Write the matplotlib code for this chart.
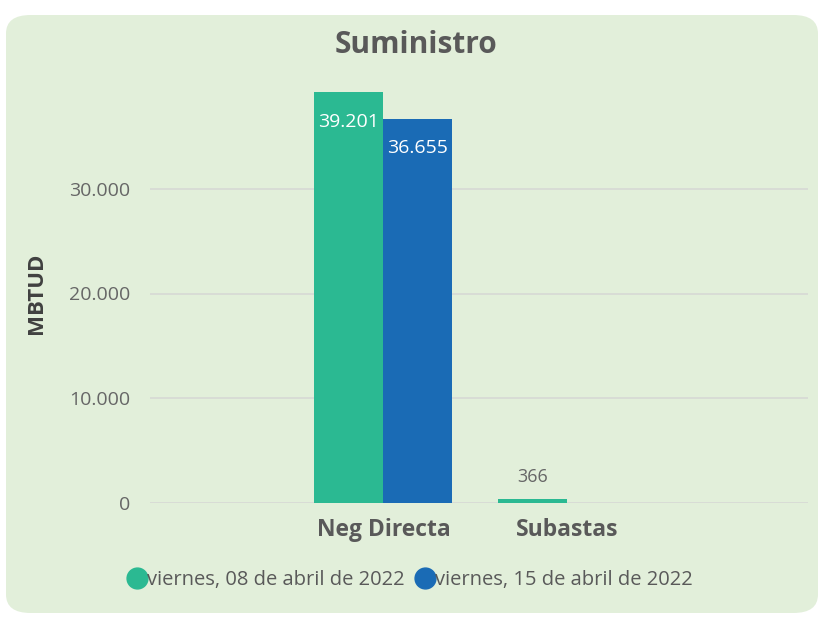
import matplotlib
matplotlib.use("Agg")
import matplotlib.pyplot as plt
from matplotlib.patches import FancyBboxPatch
from matplotlib.ticker import FuncFormatter
import numpy as np

categorias = ["Neg Directa", "Subastas"]
series = ["viernes, 08 de abril de 2022", "viernes, 15 de abril de 2022"]
valores_0804 = [39201, 366]
valores_1504 = [36655, 0]
colores = ["#2BB992", "#1A6BB5"]

plt.rcParams['font.family'] = ['Open Sans', 'DejaVu Sans']

def miles(v, pos=None):
    return f"{int(round(v)):,}".replace(",", ".")

W, H = 820, 617
fig = plt.figure(figsize=(W / 100, H / 100), dpi=100)
fig.patch.set_facecolor("white")

panel = FancyBboxPatch((6 / W, 4 / H), 812 / W, 598 / H,
                       boxstyle="round,pad=0,rounding_size=0.03",
                       transform=fig.transFigure, facecolor="#E2EFDA",
                       edgecolor="none", zorder=-10)
fig.patches.append(panel)

ax = fig.add_axes([150 / W, (H - 503) / H, 658 / W, (503 - 84) / H])
ax.set_facecolor("none")

x = np.arange(len(categorias))
ancho = 0.375
b1 = ax.bar(x - ancho / 2, valores_0804, ancho, color=colores[0], zorder=3)
b2 = ax.bar(x + ancho / 2, valores_1504, ancho, color=colores[1], zorder=3)

ax.set_xlim(-1.27, 2.31)
ax.set_ylim(0, 40000)
ax.set_yticks([0, 10000, 20000, 30000])
ax.yaxis.set_major_formatter(FuncFormatter(miles))
ax.grid(axis="y", color="#D6D9D4", linewidth=1.2, zorder=0)
for s in ax.spines.values():
    s.set_visible(False)
ax.tick_params(axis="both", length=0)
ax.tick_params(axis="y", labelsize=14, labelcolor="#666666", pad=14)
ax.set_xticks(x)
ax.set_xticklabels(categorias, fontsize=16.5, fontweight="bold", color="#595959")
ax.tick_params(axis="x", pad=11)

ax.set_ylabel("MBTUD", fontsize=16, fontweight="bold", color="#404040", labelpad=16)

# etiquetas de valores
for barras in (b1, b2):
    for b in barras:
        v = b.get_height()
        if v <= 0:
            continue
        cx = b.get_x() + b.get_width() / 2
        if v > 5000:
            ax.annotate(miles(v), (cx, v), xytext=(0, -21), textcoords="offset points",
                        ha="center", va="center", color="white", fontsize=14, zorder=4)
        else:
            ax.annotate(miles(v), (cx, v), xytext=(0, 16), textcoords="offset points",
                        ha="center", va="center", color="#666666", fontsize=13, zorder=4)

fig.text(416 / W, 1 - 45 / H, "Suministro", ha="center", va="center",
         fontsize=21.5, fontweight="bold", color="#595959")

# leyenda
handles = [plt.Line2D([], [], marker="o", linestyle="none", markersize=15,
                      markerfacecolor=c, markeredgecolor=c) for c in colores]
fig.legend(handles, series, loc="center", bbox_to_anchor=(410 / W, 1 - 580 / H),
           ncol=2, frameon=False, fontsize=14.5, labelcolor="#595959",
           handletextpad=0.0, columnspacing=0.5, handlelength=1.0)

fig.savefig("out.png", dpi=100, facecolor="white")
